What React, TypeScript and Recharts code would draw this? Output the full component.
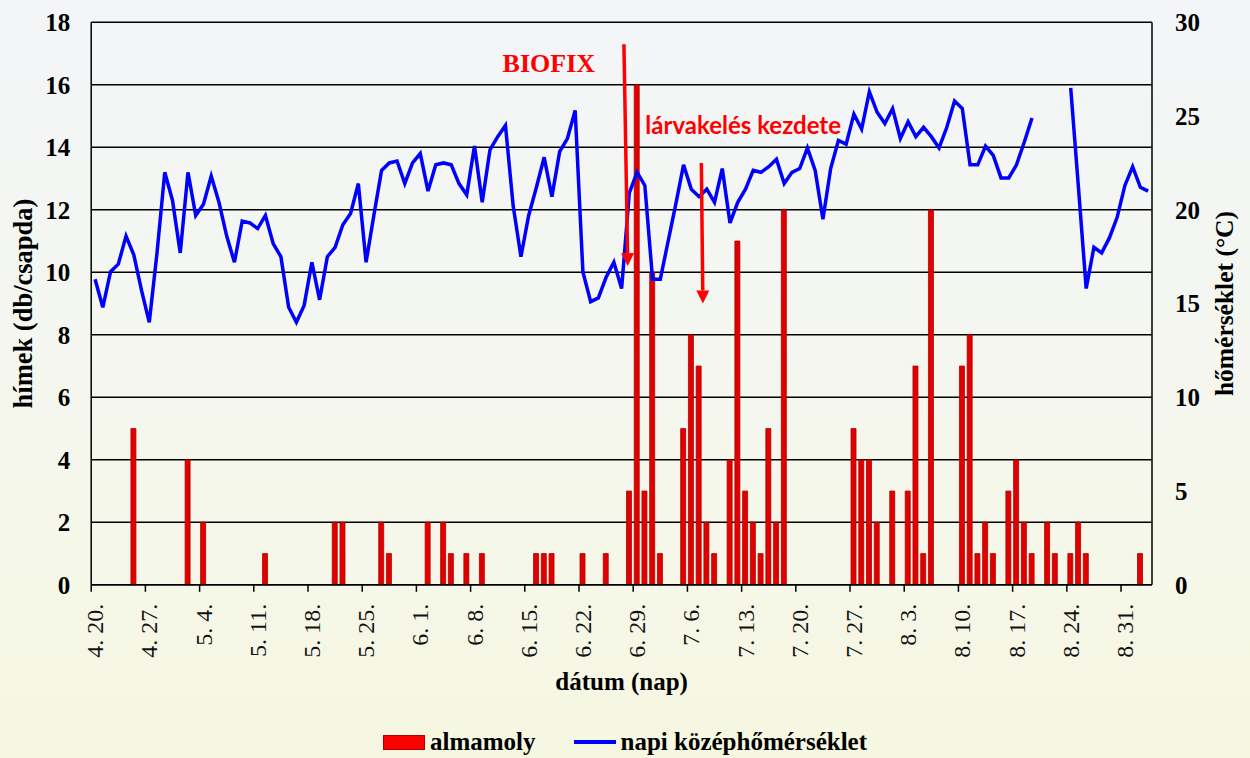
import React from "react"
import {
  Bar,
  CartesianGrid,
  ComposedChart,
  Legend,
  Line,
  ReferenceDot,
  ReferenceLine,
  XAxis,
  YAxis,
} from "recharts"

// calendar days of the season: [month, first day, last day]
const monthSpans: [string, number, number][] = [
  ["4", 20, 30],
  ["5", 1, 31],
  ["6", 1, 30],
  ["7", 1, 31],
  ["8", 1, 31],
  ["9", 1, 3],
]
const dates: string[] = monthSpans.flatMap(([m, a, b]) =>
  Array.from({ length: b - a + 1 }, (_, k) => `${m}. ${a + k}.`)
)

const tickLabels = [
  "4. 20.", "4. 27.", "5. 4.", "5. 11.", "5. 18.", "5. 25.", "6. 1.", "6. 8.", "6. 15.", "6. 22.",
  "6. 29.", "7. 6.", "7. 13.", "7. 20.", "7. 27.", "8. 3.", "8. 10.", "8. 17.", "8. 24.", "8. 31.",
]

// hímek (db/csapda) – daily catch
const almamoly = [
  0, 0, 0, 0, 0, 5, 0, 0, 0, 0,
  0, 0, 4, 0, 2, 0, 0, 0, 0, 0,
  0, 0, 1, 0, 0, 0, 0, 0, 0, 0,
  0, 2, 2, 0, 0, 0, 0, 2, 1, 0,
  0, 0, 0, 2, 0, 2, 1, 0, 1, 0,
  1, 0, 0, 0, 0, 0, 0, 1, 1, 1,
  0, 0, 0, 1, 0, 0, 1, 0, 0, 3,
  16, 3, 10, 1, 0, 0, 5, 8, 7, 2,
  1, 0, 4, 11, 3, 2, 1, 5, 2, 12,
  0, 0, 0, 0, 0, 0, 0, 0, 5, 4,
  4, 2, 0, 3, 0, 3, 7, 1, 12, 0,
  0, 0, 7, 8, 1, 2, 1, 0, 3, 4,
  2, 1, 0, 2, 1, 0, 1, 2, 1, 0,
  0, 0, 0, 0, 0, 1, 0,
]

// napi középhőmérséklet (°C)
const homerseklet: (number | null)[] = [
  16.3, 14.8, 16.7, 17.1, 18.6, 17.6, 15.7, 14.0, 17.7, 22.0,
  20.5, 17.7, 22.0, 19.7, 20.3, 21.8, 20.4, 18.6, 17.2, 19.4,
  19.3, 19.0, 19.7, 18.2, 17.5, 14.8, 14.0, 14.9, 17.2, 15.2,
  17.5, 18.0, 19.2, 19.8, 21.4, 17.2, 19.7, 22.1, 22.5, 22.6,
  21.4, 22.5, 23.0, 21.0, 22.4, 22.5, 22.4, 21.4, 20.8, 23.4,
  20.4, 23.2, 23.9, 24.5, 20.2, 17.5, 19.7, 21.2, 22.8, 20.7,
  23.1, 23.8, 25.3, 16.7, 15.1, 15.3, 16.4, 17.2, 15.8, 20.9,
  22.0, 21.3, 16.3, 16.3, 18.3, 20.3, 22.4, 21.1, 20.7, 21.1,
  20.4, 22.2, 19.3, 20.4, 21.1, 22.1, 22.0, 22.3, 22.7, 21.4,
  22.0, 22.2, 23.3, 22.1, 19.5, 22.2, 23.7, 23.5, 25.1, 24.3,
  26.3, 25.2, 24.6, 25.4, 23.8, 24.7, 23.9, 24.4, 23.9, 23.3,
  24.4, 25.8, 25.4, 22.4, 22.4, 23.4, 22.9, 21.7, 21.7, 22.4,
  23.6, 24.9, null, null, null, null, 26.5, 21.2, 15.8, 18.0,
  17.7, 18.5, 19.6, 21.3, 22.3, 21.2, 21.0,
]

const leftTicks = [0, 2, 4, 6, 8, 10, 12, 14, 16, 18]
const rightTicks = [0, 5, 10, 15, 20, 25, 30]

// annotation arrows, in (day, hímek) units
const biofixArrow = [{ x: 68.8, y: 17.3 }, { x: 69.3, y: 10.2 }]
const larvaArrow = [{ x: 78.8, y: 13.5 }, { x: 79.0, y: 9.0 }]

const data = dates.map((date, i) => ({
  day: i + 0.5,
  date,
  almamoly: almamoly[i],
  temp: homerseklet[i],
}))
const xTicks = tickLabels.map((l) => dates.indexOf(l))

const SERIF = "'Liberation Serif', 'Times New Roman', serif"

const Arrow = (props: any) => {
  const { x1, y1, x2, y2 } = props
  const dx = x2 - x1
  const dy = y2 - y1
  const len = Math.hypot(dx, dy)
  const ux = dx / len
  const uy = dy / len
  const head = 13
  const half = 6.5
  const bx = x2 - ux * head
  const by = y2 - uy * head
  return (
    <g>
      <line x1={x1} y1={y1} x2={bx} y2={by} stroke="#ff0000" strokeWidth={3.5} />
      <polygon
        points={`${x2},${y2} ${bx - uy * half},${by + ux * half} ${bx + uy * half},${by - ux * half}`}
        fill="#ff0000"
      />
    </g>
  )
}

const DateTick = (props: any) => {
  const { x, y, payload } = props
  const idx = xTicks.indexOf(payload.value)
  return (
    <g transform={`translate(${x},${y})`}>
      <text
        x={-10}
        y={4}
        transform="rotate(-90)"
        textAnchor="end"
        dominantBaseline="central"
        fontFamily={SERIF}
        fontSize={24}
        fill="#111"
      >
        {tickLabels[idx]}
      </text>
    </g>
  )
}

const LegendBox = () => (
  <div
    style={{
      display: "flex",
      justifyContent: "center",
      alignItems: "center",
      height: 30,
      fontFamily: SERIF,
      fontWeight: "bold",
      fontSize: 25,
      color: "#000",
    }}
  >
    <span
      style={{
        display: "inline-block",
        width: 40,
        height: 13,
        background: "#ff0000",
        border: "1px solid #b00000",
        marginRight: 5,
      }}
    />
    <span style={{ marginRight: 38 }}>almamoly</span>
    <span style={{ display: "inline-block", width: 42, height: 4, background: "#0000ff", marginRight: 5 }} />
    <span>napi középhőmérséklet</span>
  </div>
)

export default function App() {
  return (
    <div
      style={{
        position: "absolute",
        left: 0,
        top: 0,
        width: 1250,
        height: 758,
        background: "linear-gradient(180deg, #f3f5f8 0%, #f5f7ee 55%, #f6f7e1 100%)",
      }}
    >
      <ComposedChart
        width={1250}
        height={758}
        data={data}
        margin={{ top: 22.3, right: 0, bottom: 33.2, left: 0 }}
      >
        <CartesianGrid yAxisId="left" vertical={false} stroke="#000" strokeWidth={1.5} />
        <XAxis
          dataKey="day"
          type="number"
          domain={[0, 137]}
          ticks={xTicks}
          interval={0}
          height={110}
          tick={<DateTick />}
          tickSize={7}
          tickLine={{ stroke: "#000", strokeWidth: 1.5 }}
          axisLine={{ stroke: "#000", strokeWidth: 1.5 }}
          label={{
            content: ({ viewBox }: any) => (
              <text
                x={viewBox.x + viewBox.width / 2}
                y={viewBox.y + 105}
                textAnchor="middle"
                fontFamily={SERIF}
                fontWeight="bold"
                fontSize={25}
                fill="#000"
              >
                dátum (nap)
              </text>
            ),
          }}
        />
        <YAxis
          yAxisId="left"
          orientation="left"
          width={91.2}
          domain={[0, 18]}
          ticks={leftTicks}
          interval={0}
          tickSize={0}
          tickMargin={21}
          tickLine={false}
          axisLine={{ stroke: "#000", strokeWidth: 1.5 }}
          tick={{ fill: "#000", fontFamily: SERIF, fontWeight: "bold", fontSize: 25 }}
          label={{
            content: ({ viewBox }: any) => {
              const cx = viewBox.x + 23
              const cy = viewBox.y + viewBox.height / 2
              return (
                <text
                  x={cx}
                  y={cy}
                  transform={`rotate(-90, ${cx}, ${cy})`}
                  textAnchor="middle"
                  dominantBaseline="central"
                  fontFamily={SERIF}
                  fontWeight="bold"
                  fontSize={26.5}
                  fill="#000"
                >
                  hímek (db/csapda)
                </text>
              )
            },
          }}
        />
        <YAxis
          yAxisId="right"
          orientation="right"
          width={98}
          domain={[0, 30]}
          ticks={rightTicks}
          interval={0}
          tickSize={0}
          tickMargin={23}
          tickLine={false}
          axisLine={{ stroke: "#000", strokeWidth: 1.5 }}
          tick={{ fill: "#000", fontFamily: SERIF, fontWeight: "bold", fontSize: 25 }}
          label={{
            content: ({ viewBox }: any) => {
              const cx = viewBox.x + 73
              const cy = viewBox.y + viewBox.height / 2
              return (
                <text
                  x={cx}
                  y={cy}
                  transform={`rotate(-90, ${cx}, ${cy})`}
                  textAnchor="middle"
                  dominantBaseline="central"
                  fontFamily={SERIF}
                  fontWeight="bold"
                  fontSize={25.5}
                  fill="#000"
                >
                  hőmérséklet (°C)
                </text>
              )
            },
          }}
        />
        <Legend
          verticalAlign="bottom"
          content={<LegendBox />}
          wrapperStyle={{ top: 727, left: 0, width: 1250, height: 30 }}
        />
        <Bar
          yAxisId="left"
          dataKey="almamoly"
          name="almamoly"
          barSize={5}
          fill="#e00000"
          stroke="#b00000"
          strokeWidth={0.8}
          isAnimationActive={false}
        />
        <Line
          yAxisId="right"
          dataKey="temp"
          name="napi középhőmérséklet"
          type="linear"
          stroke="#0000ff"
          strokeWidth={3.5}
          dot={false}
          activeDot={false}
          connectNulls={false}
          isAnimationActive={false}
        />
        <ReferenceLine yAxisId="left" segment={biofixArrow} shape={Arrow} ifOverflow="visible" />
        <ReferenceLine yAxisId="left" segment={larvaArrow} shape={Arrow} ifOverflow="visible" />
        <ReferenceDot
          yAxisId="left"
          x={59.1}
          y={16.7}
          r={0}
          fill="none"
          stroke="none"
          ifOverflow="visible"
          label={{
            value: "BIOFIX",
            position: "center",
            fill: "#ff0000",
            fontFamily: SERIF,
            fontWeight: "bold",
            fontSize: 26,
          }}
        />
        <ReferenceDot
          yAxisId="left"
          x={84.2}
          y={14.7}
          r={0}
          fill="none"
          stroke="none"
          ifOverflow="visible"
          label={{
            value: "lárvakelés kezdete",
            position: "center",
            fill: "#ff0000",
            fontFamily: "Lato, 'Liberation Sans', sans-serif",
            fontWeight: "bold",
            fontSize: 24,
          }}
        />
      </ComposedChart>
    </div>
  )
}
